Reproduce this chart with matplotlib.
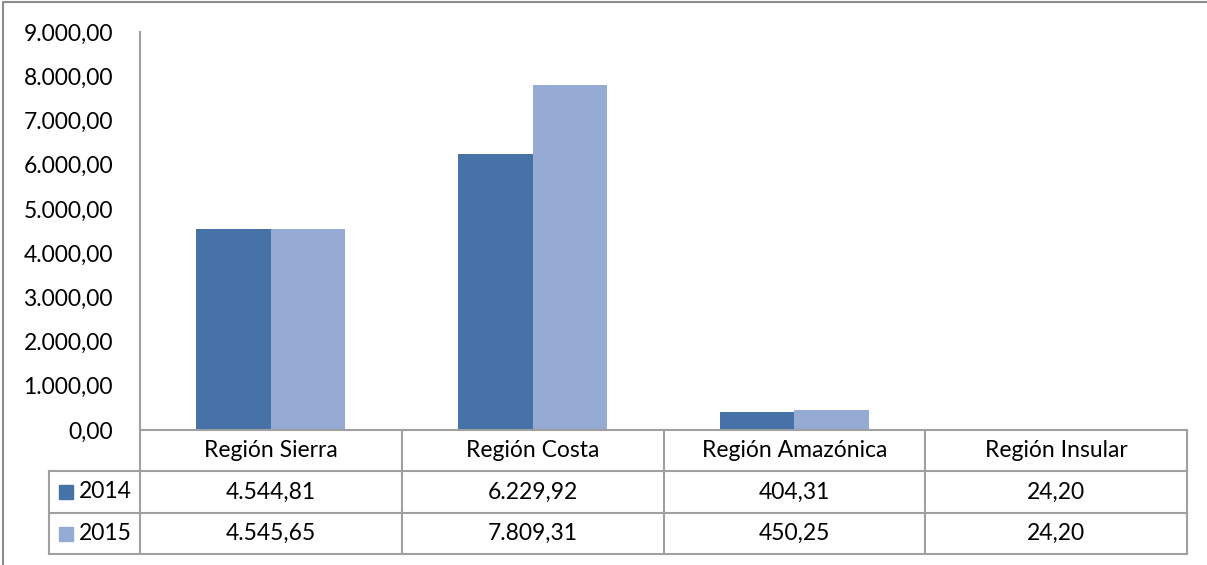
import matplotlib.pyplot as plt
from matplotlib.lines import Line2D
from matplotlib.patches import Rectangle
from matplotlib.ticker import FuncFormatter, MultipleLocator

regiones = ['Región Sierra', 'Región Costa', 'Región Amazónica', 'Región Insular']
anios = ['2014', '2015']
v2014 = [4544.81, 6229.92, 404.31, 24.20]
v2015 = [4545.65, 7809.31, 450.25, 24.20]
colores = ['#4672A8', '#95ABD3']

W, H = 1207, 565
plt.rcParams['font.family'] = ['Lato', 'DejaVu Sans']
fs = 16.5
gris = '#A0A0A0'


def es(v, pos=None):
    # formato con punto de miles y coma decimal
    return f'{v:,.2f}'.replace(',', '_').replace('.', ',').replace('_', '.')


fig = plt.figure(figsize=(W / 100, H / 100), dpi=100)
# marco del grafico (solo arriba e izquierda quedan dentro de la imagen)
fig.lines.append(Line2D([3 / W, 3 / W, 1], [0, 1 - 2 / H, 1 - 2 / H],
                        transform=fig.transFigure, color='#8C8C8C', lw=1.5))

# grafico de barras
ax = fig.add_axes([140 / W, 1 - 430 / H, (1187 - 140) / W, (430 - 32) / H])
x = range(len(regiones))
w = 0.285
ax.bar([i - w / 2 for i in x], v2014, w, color=colores[0])
ax.bar([i + w / 2 for i in x], v2015, w, color=colores[1])
ax.set_xlim(-0.5, 3.5)
ax.set_ylim(0, 9000)
ax.yaxis.set_major_locator(MultipleLocator(1000))
ax.yaxis.set_major_formatter(FuncFormatter(es))
ax.tick_params(axis='y', length=0, pad=19.5, labelsize=fs)
ax.set_xticks([])
for s in ['top', 'right', 'bottom']:
    ax.spines[s].set_visible(False)
ax.spines['left'].set_color(gris)
ax.spines['left'].set_linewidth(1.5)

# tabla de datos debajo del eje
tb = fig.add_axes([140 / W, 1 - 554 / H, (1187 - 140) / W, 124 / H])
tb.set_xlim(-0.5, 3.5)
tb.set_ylim(3, 0)
tb.axis('off')
izq = -0.5 - 91 / 261.75
kw = dict(color=gris, lw=1.5, clip_on=False)
tb.plot([-0.5, 3.5], [0, 0], **kw)
for y in [1, 2, 3]:
    tb.plot([izq, 3.5], [y, y], **kw)
for k in range(5):
    tb.plot([-0.5 + k, -0.5 + k], [0, 3], **kw)
tb.plot([izq, izq], [1, 3], **kw)

for i, r in enumerate(regiones):
    tb.text(i, 0.5, r, ha='center', va='center', fontsize=fs)
    tb.text(i, 1.5, es(v2014[i]), ha='center', va='center', fontsize=fs)
    tb.text(i, 2.5, es(v2015[i]), ha='center', va='center', fontsize=fs)

for j, (a, c) in enumerate(zip(anios, colores)):
    fig.patches.append(Rectangle((59 / W, 1 - (499 + 42 * j) / H), 14 / W, 14 / H,
                                 transform=fig.transFigure, color=c))
    fig.text(79 / W, 1 - (491 + 42 * j) / H, a, ha='left', va='center', fontsize=fs)

fig.savefig('out.png', dpi=100)
